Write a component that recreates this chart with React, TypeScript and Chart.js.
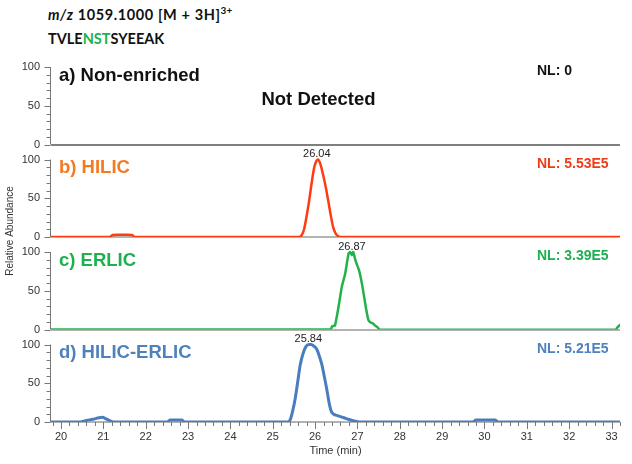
import React, { useEffect, useRef } from 'react';
import { Chart, registerables } from 'chart.js';

Chart.register(...registerables);

const FONT = '"Liberation Sans", Arial, Helvetica, sans-serif';

// ---- axis ticks ----
const xTickValues = [20, 21, 22, 23, 24, 25, 26, 27, 28, 29, 30, 31, 32, 33];
const yTickValues = [0, 50, 100];
const xMin = 19.764;
const xMax = 33.2;

// ---- panels ----
const panelIds = ['yA', 'yB', 'yC', 'yD'];
const panelLabels = ['a) Non-enriched', 'b) HILIC', 'c) ERLIC', 'd) HILIC-ERLIC'];
const nlLabels = ['NL: 0', 'NL: 5.53E5', 'NL: 3.39E5', 'NL: 5.21E5'];
const labelColors = ['#111111', '#F47A20', '#1EAF50', '#4F81BD'];
const nlColors = ['#111111', '#EF3B16', '#1EAF50', '#4F81BD'];

// ---- peak apex labels ----
const peakLabels = ['26.04', '26.87', '25.84'];
const peakTimes = [26.04, 26.87, 25.84];
const peakPanels = [1, 2, 3];

// ---- series: b) HILIC ----
const hilicTime = [19.7, 21.15, 21.22, 21.35, 21.55, 21.68, 21.74, 25.62, 25.68, 25.74, 25.8, 25.86, 25.92, 25.98, 26.03, 26.07, 26.12, 26.19, 26.25, 26.31, 26.37, 26.43, 26.49, 26.55, 26.6, 33.3];
const hilicValue = [0, 0, 2.5, 3, 3, 2.5, 0, 0, 2, 10, 27, 47, 70, 90, 98, 100, 95, 80, 65, 47, 28, 12, 4, 1, 0, 0];

// ---- series: c) ERLIC ----
const erlicTime = [19.7, 26.37, 26.4, 26.47, 26.55, 26.63, 26.71, 26.79, 26.83, 26.87, 26.9, 26.96, 27.04, 27.12, 27.2, 27.26, 27.31, 27.36, 27.42, 27.47, 27.52, 33.1, 33.16, 33.3];
const erlicValue = [0, 0, 4, 5, 28, 55, 72, 98, 100, 96, 100, 88, 76, 55, 28, 12, 9, 8, 5, 3, 0, 0, 4, 10];

// ---- series: d) HILIC-ERLIC ----
const heTime = [19.7, 20.45, 20.6, 20.75, 20.9, 20.98, 21.06, 21.18, 21.25, 22.5, 22.58, 22.85, 22.92, 25.36, 25.42, 25.47, 25.53, 25.59, 25.65, 25.72, 25.78, 25.85, 25.91, 25.97, 26.04, 26.1, 26.16, 26.22, 26.28, 26.33, 26.38, 26.44, 26.51, 26.6, 26.68, 26.78, 26.88, 26.98, 27.06, 29.72, 29.8, 30.25, 30.32, 33.3];
const heValue = [0, 0, 2, 3.5, 5.5, 6, 4, 1, 0, 0, 2.5, 2.5, 0, 0, 4, 14, 30, 52, 74, 89, 97, 100, 100, 98, 94, 85, 74, 58, 41, 25, 14, 10, 8.5, 7, 5.5, 3.5, 2, 0.8, 0, 0, 2.5, 2.5, 0, 0];

const toPoints = (t: number[], v: number[]) => t.map((x, i) => ({ x, y: v[i] }));

const panelPlugin = {
  id: 'panelDecor',
  beforeDatasetsDraw(chart: any) {
    const { ctx } = chart;
    const xs = chart.scales.x;
    ctx.save();
    panelIds.forEach((id, i) => {
      const ys = chart.scales[id];
      const y0 = Math.round(ys.getPixelForValue(0));
      ctx.strokeStyle = i === 0 ? '#555555' : '#9a9a9a';
      ctx.lineWidth = 1.5;
      ctx.beginPath();
      ctx.moveTo(xs.left, y0);
      ctx.lineTo(xs.right, y0);
      ctx.stroke();
    });
    ctx.restore();
  },
  afterDraw(chart: any) {
    const { ctx, chartArea } = chart;
    const xs = chart.scales.x;
    const L = chartArea.left - 0.5;
    ctx.save();
    ctx.strokeStyle = '#777777';
    ctx.lineWidth = 1;
    // y axes
    panelIds.forEach((id) => {
      const ys = chart.scales[id];
      const y0 = ys.getPixelForValue(0);
      const y100 = ys.getPixelForValue(100);
      ctx.beginPath();
      ctx.moveTo(L, y0);
      ctx.lineTo(L, y100);
      ctx.stroke();
      for (let v = 0; v <= 100; v += 10) {
        const py = Math.round(ys.getPixelForValue(v)) + 0.5;
        const len = v % 50 === 0 ? 6 : 4;
        ctx.beginPath();
        ctx.moveTo(L - len, py);
        ctx.lineTo(L, py);
        ctx.stroke();
      }
    });
    // x ticks
    const yb = Math.round(chart.scales.yD.getPixelForValue(0));
    for (let k = 0; k <= 67; k++) {
      const t = 19.8 + k * 0.2;
      if (t > xMax) break;
      const px = Math.round(xs.getPixelForValue(t)) + 0.5;
      const major = Math.abs(t - Math.round(t)) < 0.01;
      ctx.beginPath();
      ctx.moveTo(px, yb);
      ctx.lineTo(px, yb + (major ? 7 : 4));
      ctx.stroke();
    }
    // panel labels
    ctx.textAlign = 'left';
    ctx.textBaseline = 'alphabetic';
    panelIds.forEach((id, i) => {
      const ys = chart.scales[id];
      ctx.font = `bold 18.5px ${FONT}`;
      ctx.fillStyle = labelColors[i];
      ctx.fillText(panelLabels[i], chartArea.left + 8, ys.getPixelForValue(82));
      ctx.font = `bold 14px ${FONT}`;
      ctx.fillStyle = nlColors[i];
      ctx.fillText(nlLabels[i], chartArea.right - 83, ys.getPixelForValue(89.7));
    });
    // not detected
    ctx.textAlign = 'center';
    ctx.font = `bold 18.5px ${FONT}`;
    ctx.fillStyle = '#111111';
    ctx.fillText('Not Detected', xs.getPixelForValue(26.08), chart.scales.yA.getPixelForValue(51));
    // peak labels
    ctx.font = `11px ${FONT}`;
    ctx.fillStyle = '#222222';
    peakLabels.forEach((txt, i) => {
      const ys = chart.scales[panelIds[peakPanels[i]]];
      ctx.fillText(txt, xs.getPixelForValue(peakTimes[i]), ys.getPixelForValue(103));
    });
    // y title
    ctx.translate(10, 231);
    ctx.rotate(-Math.PI / 2);
    ctx.font = `10px ${FONT}`;
    ctx.fillStyle = '#333333';
    ctx.textBaseline = 'middle';
    ctx.fillText('Relative Abundance', 0, 0);
    ctx.restore();
  },
};

const yScale = (weight: number) => ({
  type: 'linear',
  stack: 'panels',
  stackWeight: 1,
  weight,
  position: 'left',
  min: 0,
  max: 119.4,
  grid: { display: false, drawTicks: false },
  border: { display: false },
  ticks: { font: { family: FONT, size: 11 }, color: '#333333', padding: 11 },
  afterBuildTicks: (s: any) => {
    s.ticks = yTickValues.map((v) => ({ value: v }));
  },
  afterFit: (s: any) => {
    s.width = 51;
  },
});

export default function App() {
  const canvasRef = useRef<HTMLCanvasElement | null>(null);

  useEffect(() => {
    const canvas = canvasRef.current;
    if (!canvas) return;
    const ds = (data: any, yAxisID: string, color: string, width: number, tension: number) => ({
      data,
      yAxisID,
      xAxisID: 'x',
      borderColor: color,
      backgroundColor: color,
      borderWidth: width,
      pointRadius: 0,
      fill: false,
      tension,
      cubicInterpolationMode: tension > 0.2 ? 'monotone' : 'default',
    });
    const chart = new Chart(canvas, {
      type: 'line',
      data: {
        datasets: [
          ds(toPoints(hilicTime, hilicValue), 'yB', '#FF3B12', 2.5, 0.4),
          ds(toPoints(erlicTime, erlicValue), 'yC', '#22B24C', 2.5, 0.1),
          ds(toPoints(heTime, heValue), 'yD', '#4A7DBF', 3, 0.4),
        ],
      },
      options: {
        animation: false,
        responsive: false,
        devicePixelRatio: 1,
        events: [],
        layout: { padding: { left: 0, right: 12, top: 52, bottom: 0 } },
        plugins: { legend: { display: false }, tooltip: { enabled: false }, title: { display: false } },
        scales: {
          x: {
            type: 'linear',
            position: 'bottom',
            min: xMin,
            max: xMax,
            grid: { display: false, drawTicks: false },
            border: { display: false },
            ticks: { font: { family: FONT, size: 11 }, color: '#333333', padding: 8, autoSkip: false, maxRotation: 0 },
            afterBuildTicks: (s: any) => {
              s.ticks = xTickValues.map((v) => ({ value: v }));
            },
            afterFit: (s: any) => {
              s.height = 42;
            },
            title: {
              display: true,
              text: 'Time (min)',
              font: { family: FONT, size: 11 },
              color: '#333333',
              padding: { top: 0, bottom: 6 },
            },
          },
          yD: yScale(1),
          yC: yScale(2),
          yB: yScale(3),
          yA: yScale(4),
        } as any,
      },
      plugins: [panelPlugin],
    } as any);
    return () => chart.destroy();
  }, []);

  return (
    <div style={{ position: 'absolute', left: 0, top: 0, width: 632, height: 464, background: '#fff' }}>
      <div
        style={{
          position: 'absolute',
          left: 48,
          top: 4,
          fontFamily: 'Lato, "Liberation Sans", sans-serif',
          fontWeight: 700,
          fontSize: 14.5,
          lineHeight: '21.6px',
          color: '#111',
          whiteSpace: 'nowrap',
        }}
      >
        <div style={{ letterSpacing: 0.6 }}>
          <i>m/z</i> 1059.1000 [M + 3H]
          <span style={{ position: 'relative', top: -6, fontSize: 10, letterSpacing: 0 }}>3+</span>
        </div>
        <div>
          TVLE<span style={{ color: '#22B24C' }}>NST</span>SYEEAK
        </div>
      </div>
      <canvas ref={canvasRef} width={632} height={464} style={{ position: 'absolute', left: 0, top: 0 }} />
    </div>
  );
}
